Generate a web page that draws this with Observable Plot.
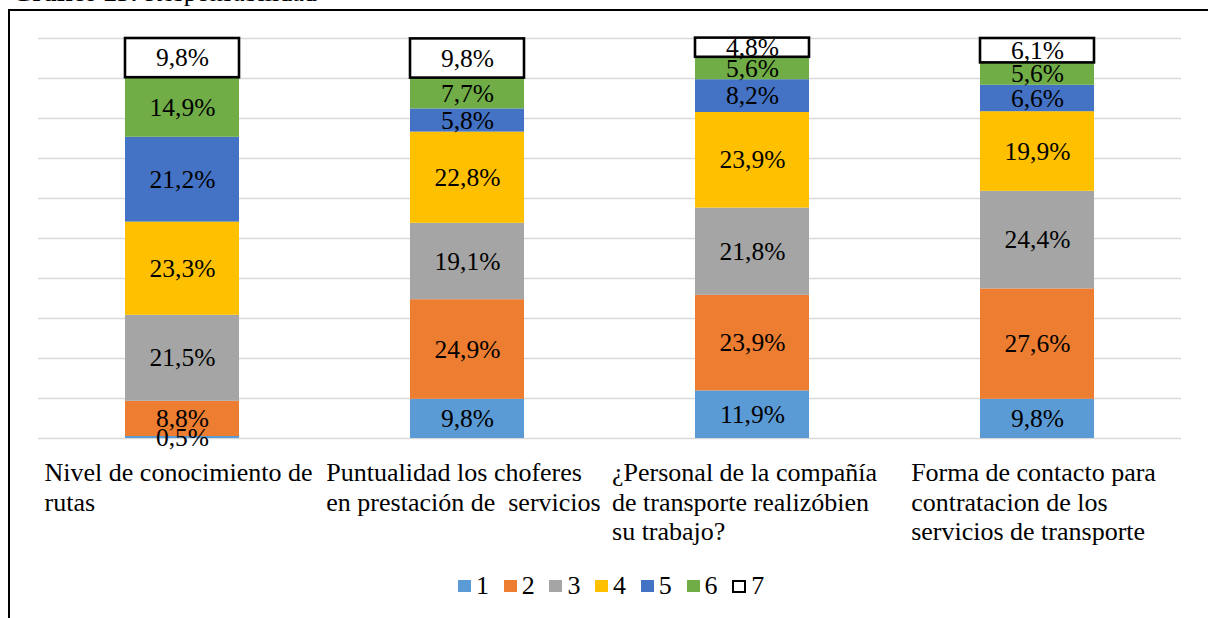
<!DOCTYPE html>
<html>
<head>
<meta charset="utf-8">
<script src="https://cdn.jsdelivr.net/npm/d3@7"></script>
<script src="https://cdn.jsdelivr.net/npm/@observablehq/plot@0.6"></script>
<style>
  html, body { margin: 0; padding: 0; background: #fff; }
  #wrap { position: relative; width: 1208px; height: 618px; overflow: hidden; background: #fff; font-family: "Liberation Serif", "Times New Roman", serif; }
  #chart { position: absolute; left: 0; top: 0; }
  #chart svg text { white-space: pre; }
  #frame { position: absolute; left: 8px; top: 9px; width: 1200px; height: 609px; border-top: 2px solid #000; border-left: 2px solid #000; box-sizing: border-box; pointer-events: none; z-index: 5; }
  #title { position: absolute; left: 12px; top: -20px; font-size: 26px; line-height: 26px; white-space: nowrap; z-index: 6; color: #000; }
  #legend { position: absolute; left: 0; top: 573px; width: 1208px; height: 26px; font-size: 26px; line-height: 26px; z-index: 6; }
  .item { position: absolute; top: 0; height: 26px; display: flex; align-items: center; }
  .sw { width: 13px; height: 12px; margin-right: 5px; box-sizing: border-box; }
</style>
</head>
<body>
<div id="wrap">
  <div id="chart"></div>
  <div id="title"><b>Gráfico 23:</b> Responsabilidad</div>
  <div id="frame"></div>
  <div id="legend"></div>
</div>
<script>
// ---- data ----
const categories = [
  "Nivel de conocimiento de\nrutas",
  "Puntualidad los choferes\nen prestación de  servicios",
  "¿Personal de la compañía\nde transporte realizóbien\nsu trabajo?",
  "Forma de contacto para\ncontratacion de los\nservicios de transporte"
];
const series = ["1", "2", "3", "4", "5", "6", "7"];
const s1 = [0.5, 9.8, 11.9, 9.8];
const s2 = [8.8, 24.9, 23.9, 27.6];
const s3 = [21.5, 19.1, 21.8, 24.4];
const s4 = [23.3, 22.8, 23.9, 19.9];
const s5 = [21.2, 5.8, 8.2, 6.6];
const s6 = [14.9, 7.7, 5.6, 5.6];
const s7 = [9.8, 9.8, 4.8, 6.1];
const seriesValues = [s1, s2, s3, s4, s5, s6, s7];
const colors = ["#5B9BD5", "#ED7D31", "#A5A5A5", "#FFC000", "#4472C4", "#70AD47", "#FFFFFF"];
const gridTicks = [0, 10, 20, 30, 40, 50, 60, 70, 80, 90, 100];

const rows = [];
series.forEach((s, si) => {
  categories.forEach((c, ci) => rows.push({cat: c, series: s, value: seriesValues[si][ci]}));
});
const fmt = v => v.toFixed(1).replace(".", ",") + "%";

// measure category label blocks (lines left-aligned, block centered on bar)
const ctx = document.createElement("canvas").getContext("2d");
ctx.font = "26px 'Liberation Serif'";
const blockWidth = c => d3.max(c.split("\n"), l => ctx.measureText(l).width);

const catMarks = categories.map((c, i) => Plot.text([c], {
  x: d => d,
  frameAnchor: "bottom",
  text: d => d,
  textAnchor: "start",
  lineAnchor: "top",
  lineHeight: 1.127,
  dx: -blockWidth(c) / 2 - (i === 2 ? 8 : 4),
  dy: 22,
  fontSize: 26,
  fill: "#000"
}));

const chart = Plot.plot({
  width: 1208,
  height: 560,
  marginLeft: 38,
  marginRight: 27,
  marginTop: 38,
  marginBottom: 122,
  style: {background: "transparent", fontFamily: "'Liberation Serif', 'Times New Roman', serif", overflow: "visible"},
  x: {domain: categories, paddingInner: 0.6, paddingOuter: 0.3, axis: null},
  y: {domain: [0, 100], axis: null},
  color: {domain: series, range: colors},
  marks: [
    Plot.ruleY(gridTicks, {stroke: "#d9d9d9", strokeWidth: 1.6}),
    Plot.barY(rows, Plot.stackY({x: "cat", y: "value", fill: "series"})),
    Plot.barY(rows, Plot.stackY({x: "cat", y: "value", fill: "none", stroke: "#000", strokeWidth: 2.6,
      strokeOpacity: d => d.series === "7" ? 1 : 0})),
    Plot.text(rows, Plot.stackY({x: "cat", y: "value", text: d => fmt(d.value), fontSize: 25.5, fill: "#000"})),
    ...catMarks
  ]
});
document.getElementById("chart").appendChild(chart);

// legend
const legend = document.getElementById("legend");
series.forEach((s, i) => {
  const item = document.createElement("div");
  item.className = "item";
  item.style.left = (458 + i * 45.7) + "px";
  const sw = document.createElement("div");
  sw.className = "sw";
  if (s === "7") {
    sw.style.background = "#fff";
    sw.style.border = "2.5px solid #000";
    sw.style.width = "14px";
    sw.style.height = "13px";
  } else {
    sw.style.background = colors[i];
  }
  const t = document.createElement("span");
  t.textContent = s;
  item.appendChild(sw);
  item.appendChild(t);
  legend.appendChild(item);
});
</script>
</body>
</html>
